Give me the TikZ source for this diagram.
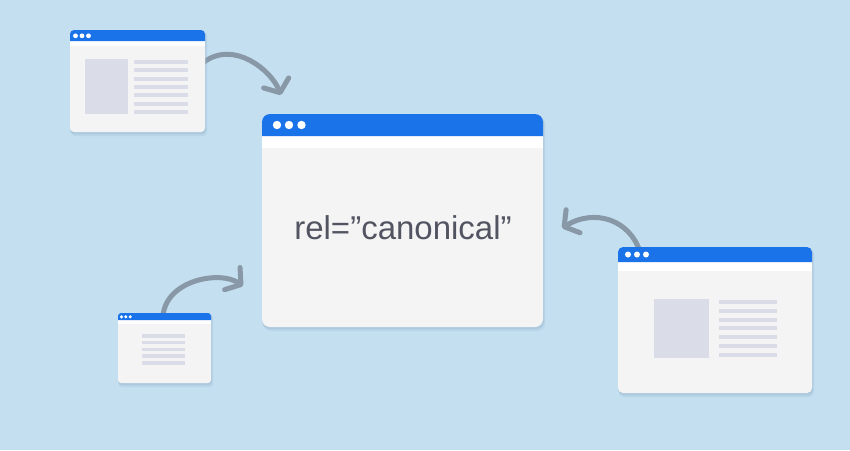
\documentclass[tikz,border=0pt]{standalone}
\usepackage{fontspec}
\setmainfont{Liberation Sans}
\usetikzlibrary{arrows.meta}
\definecolor{bgc}{RGB}{196,223,240}
\definecolor{barc}{RGB}{26,115,232}
\definecolor{bodyc}{RGB}{244,244,245}
\definecolor{phc}{RGB}{218,221,232}
\definecolor{shc}{RGB}{150,180,205}
\definecolor{arrc}{RGB}{136,152,166}
\definecolor{txtc}{RGB}{82,85,97}
\newcommand\browserwin[7]{%
  % #1 x1, #2 y1, #3 x2, #4 y2, #5 bar bottom, #6 strip bottom, #7 radius
  \fill[shc,opacity=0.25,rounded corners=#7] (#1+1,#2+2) rectangle (#3+2,#4+4);
  \fill[shc,opacity=0.35,rounded corners=#7] (#1,#2+1) rectangle (#3+1,#4+2);
  \fill[bodyc,rounded corners=#7] (#1,#2) rectangle (#3,#4);
  \fill[white] (#1,#5) rectangle (#3,#6);
  \fill[barc] (#1,#5) [rounded corners=#7]-- (#1,#2) -- (#3,#2) [sharp corners]-- (#3,#5) -- cycle;
}
\tikzset{
  arr/.style={draw=arrc,line width=5pt,line cap=round,
    -{Straight Barb[length=10.5pt,width=27pt,round]}},
  dot/.style={fill=white},
  ph/.style={fill=phc}
}
\begin{document}
\begin{tikzpicture}[x=1pt,y=-1pt]
\fill[bgc] (0,0) rectangle (850,450);
\useasboundingbox (0,0) rectangle (850,450);
% arrow coordinates
\coordinate (a1s) at (204,62);
\coordinate (a1e) at (281,95);
\coordinate (a2s) at (163,316);
\coordinate (a2e) at (243,286);
\coordinate (a3s) at (640,252);
\coordinate (a3e) at (562,228);
% arrows (behind windows)
\draw[arr] (a1s) .. controls (234,40) and (271,70) .. (a1e);
\draw[arr] (a2s) .. controls (166,280) and (220,270) .. (a2e);
\draw[arr] (a3s) .. controls (630,220) and (595,208) .. (a3e);
% top-left window
\browserwin{70}{30}{205}{132}{41}{46}{4}
\foreach \x in {75.5,82,88.5} \fill[dot] (\x,35.8) circle (2.4);
\fill[ph] (85,59) rectangle (128,114);
\foreach \y in {62,70.3,78.6,86.9,95.2,103.5,111.8} \fill[ph] (134,\y-2) rectangle (188,\y+2);
% bottom-left window
\browserwin{118}{313}{211}{383}{320}{324}{3}
\foreach \x in {121.5,125.8,130.2} \fill[dot] (\x,316.8) circle (1.7);
\foreach \y in {336,342.7,349.4,356.1,362.8} \fill[ph] (142,\y-1.7) rectangle (185,\y+1.7);
% right window
\browserwin{618}{247}{812}{393}{262}{271}{5}
\foreach \x in {628,637,646} \fill[dot] (\x,254.5) circle (3);
\fill[ph] (654,299) rectangle (709,358);
\foreach \y in {302,310.8,319.6,328.4,337.2,346,354.8} \fill[ph] (719,\y-2) rectangle (777,\y+2);
% main window
\browserwin{262}{114}{543}{327}{136}{148}{8}
\foreach \x in {277,289,301.5} \fill[dot] (\x,125) circle (4.2);
\node[font=\fontsize{33}{36}\selectfont,text=txtc,inner sep=0pt] (lbl) at (403,228) {rel=”canonical”};
\end{tikzpicture}
\end{document}
